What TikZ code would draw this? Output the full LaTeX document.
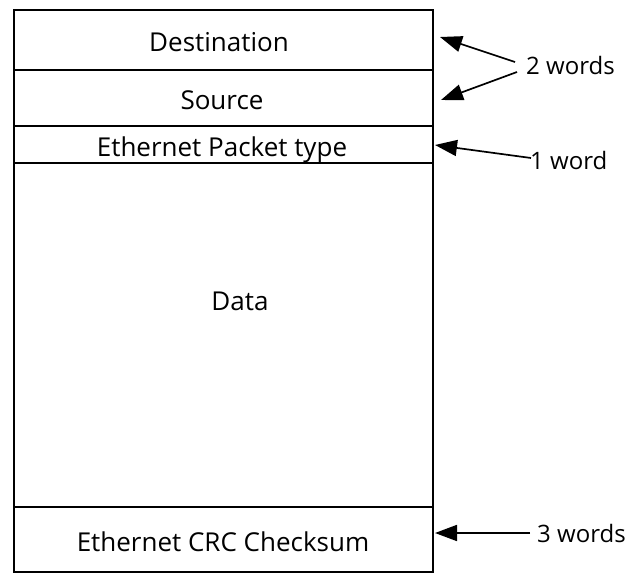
\documentclass[tikz,border=0pt]{standalone}
\usepackage{fontspec}
\setmainfont{Open Sans}
\usetikzlibrary{arrows.meta}
\begin{document}
\begin{tikzpicture}[x=1pt,y=-1pt,
  frame/.style={line width=1.8pt,black},
  field/.style={font=\fontsize{26}{30}\selectfont,inner sep=0pt,anchor=base},
  lbl/.style={font=\fontsize{24}{28}\selectfont,inner sep=0pt,anchor=west},
  arr/.style={line width=1.7pt,-{Triangle[length=22pt,width=16pt]}}]
\useasboundingbox (0,0) rectangle (626,575);
% frame and dividers
\draw[frame] (14,10) rectangle (433,572);
\draw[frame] (14,70) -- (433,70);
\draw[frame] (14,126) -- (433,126);
\draw[frame] (14,163) -- (433,163);
\draw[frame] (14,507) -- (433,507);
% field texts
\node[field] (dest) at (219,52) {Destination};
\node[field] (src) at (222,110) {Source};
\node[field] (type) at (222,156) {Ethernet Packet type};
\node[field] (data) at (240,310) {Data};
\node[field] (crc) at (223,551) {Ethernet CRC Checksum};
% labels
\node[lbl] (two) at (526,66) {2 words};
\node[lbl] (one) at (530,160) {1 word};
\node[lbl] (three) at (537,533) {3 words};
% arrow tips
\coordinate (tDest) at (440,37);
\coordinate (tSrc) at (441,100);
\coordinate (tType) at (435,145);
\coordinate (tCrc) at (435,533);
\draw[arr] ([xshift=-11pt,yshift=4pt]two.west) -- (tDest);
\draw[arr] ([xshift=-9pt,yshift=-6pt]two.west) -- (tSrc);
\draw[arr] ([xshift=1pt,yshift=2pt]one.west) -- (tType);
\draw[arr] ([xshift=-7pt]three.west) -- (tCrc);
\end{tikzpicture}
\end{document}
